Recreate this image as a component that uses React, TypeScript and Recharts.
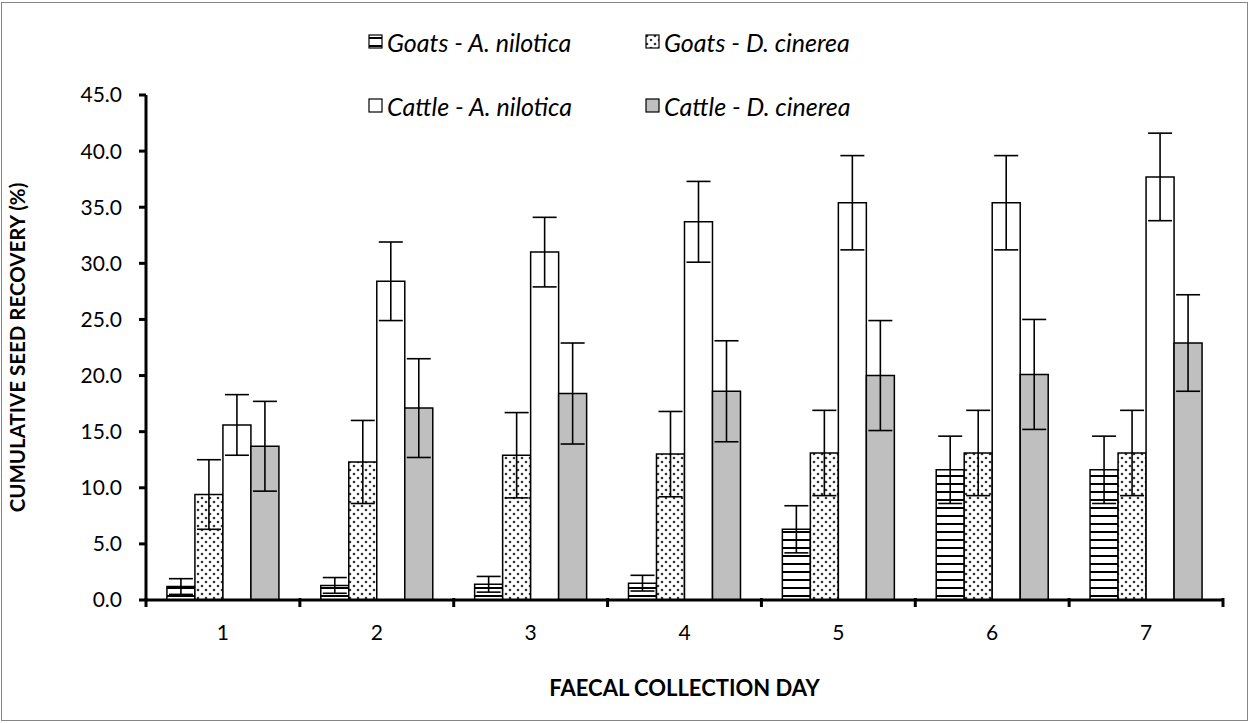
import React from "react";
import { Bar, BarChart, ErrorBar, XAxis, YAxis } from "recharts";

// values (cumulative % recovered, ± error)
const days = ["1", "2", "3", "4", "5", "6", "7"];
const goatsNilotica = [1.2, 1.3, 1.4, 1.5, 6.3, 11.6, 11.6];
const goatsNiloticaErr = [0.7, 0.7, 0.7, 0.7, 2.1, 3.0, 3.0];
const goatsCinerea = [9.4, 12.3, 12.9, 13.0, 13.1, 13.1, 13.1];
const goatsCinereaErr = [3.1, 3.7, 3.8, 3.8, 3.8, 3.8, 3.8];
const cattleNilotica = [15.6, 28.4, 31.0, 33.7, 35.4, 35.4, 37.7];
const cattleNiloticaErr = [2.7, 3.5, 3.1, 3.6, 4.2, 4.2, 3.9];
const cattleCinerea = [13.7, 17.1, 18.4, 18.6, 20.0, 20.1, 22.9];
const cattleCinereaErr = [4.0, 4.4, 4.5, 4.5, 4.9, 4.9, 4.3];
const yTicks = [0, 5, 10, 15, 20, 25, 30, 35, 40, 45];

const series = [
  { key: "gA", name: "Goats - A. nilotica", fill: "url(#hlines)" },
  { key: "gD", name: "Goats - D. cinerea", fill: "url(#dots)" },
  { key: "cA", name: "Cattle - A. nilotica", fill: "#ffffff" },
  { key: "cD", name: "Cattle - D. cinerea", fill: "#bfbfbf" },
];

const data = days.map((day, i) => ({
  day,
  gA: goatsNilotica[i],
  gAe: goatsNiloticaErr[i],
  gD: goatsCinerea[i],
  gDe: goatsCinereaErr[i],
  cA: cattleNilotica[i],
  cAe: cattleNiloticaErr[i],
  cD: cattleCinerea[i],
  cDe: cattleCinereaErr[i],
}));

const W = 1249;
const H = 723;
const margin = { top: 95, right: 26, left: 66, bottom: 23 };
const yAxisWidth = 80;
const plotLeft = margin.left + yAxisWidth;
const plotRight = W - margin.right;
const band = (plotRight - plotLeft) / days.length;
const font = "Lato, 'Open Sans', sans-serif";

function DayTick(props: any) {
  const { x, y, payload, index } = props;
  const left = x - band / 2;
  return (
    <g>
      <line x1={left} x2={left} y1={y - 10} y2={y - 1} stroke="#000" strokeWidth={3} />
      {index === days.length - 1 && (
        <line x1={x + band / 2} x2={x + band / 2} y1={y - 10} y2={y - 1} stroke="#000" strokeWidth={3} />
      )}
      <text x={x} y={y + 32} textAnchor="middle" fontSize={21} fontFamily={font} fill="#000">
        {payload.value}
      </text>
    </g>
  );
}

function LegendBox({ fill }: { fill: string }) {
  return (
    <svg width={15} height={15} style={{ marginRight: 4 }}>
      <rect x={1} y={1} width={13} height={13} fill={fill} stroke="#000" strokeWidth={1.2} />
    </svg>
  );
}

function LegendBlock() {
  return (
    <div
      style={{
        position: "absolute",
        left: 368,
        top: 28,
        display: "grid",
        gridTemplateColumns: "277px 270px",
        rowGap: 37,
        fontFamily: font,
        fontStyle: "italic",
        fontSize: 25,
        color: "#000",
      }}
    >
      {series.map((s) => (
        <div key={s.key} style={{ display: "flex", alignItems: "center", height: 27 }}>
          <LegendBox fill={s.fill} />
          <span>{s.name}</span>
        </div>
      ))}
    </div>
  );
}

export default function App() {
  return (
    <div style={{ position: "absolute", left: 0, top: 0, width: W, height: H, background: "#fff" }}>
      <div
        style={{
          position: "absolute",
          left: 1,
          top: 2,
          width: W - 4,
          height: H - 6,
          border: "1px solid #868686",
        }}
      />
      <BarChart
        width={W}
        height={H}
        data={data}
        margin={margin}
        barCategoryGap="13.6%"
        barGap={0}
        style={{ position: "absolute", left: 0, top: 0 }}
      >
        <defs>
          <pattern id="hlines" width={8} height={8} patternUnits="userSpaceOnUse">
            <rect width={8} height={8} fill="#fff" />
            <rect y={3} width={8} height={2} fill="#000" />
          </pattern>
          <pattern id="dots" width={8} height={8} patternUnits="userSpaceOnUse">
            <rect width={8} height={8} fill="#fff" />
            <circle cx={2} cy={2} r={1.3} fill="#333" />
            <circle cx={6} cy={6} r={1.3} fill="#333" />
          </pattern>
        </defs>
        <XAxis
          dataKey="day"
          height={100}
          axisLine={{ stroke: "#000", strokeWidth: 3 }}
          tickLine={false}
          tick={<DayTick />}
          interval={0}
          label={{
            value: "FAECAL COLLECTION DAY",
            position: "insideBottom",
            offset: 4,
            fontSize: 22,
            fontWeight: 700,
            fontFamily: font,
            fill: "#000",
          }}
        />
        <YAxis
          width={yAxisWidth}
          domain={[0, 45]}
          ticks={yTicks}
          interval={0}
          tickFormatter={(v: number) => v.toFixed(1)}
          axisLine={{ stroke: "#000", strokeWidth: 3 }}
          tickLine={{ stroke: "#000", strokeWidth: 3 }}
          tickSize={7}
          tickMargin={17}
          tick={{ fontSize: 21, fontFamily: font, fill: "#000" }}
          label={{
            value: "CUMULATIVE SEED RECOVERY (%)",
            angle: -90,
            position: "insideLeft",
            offset: -48,
            style: { textAnchor: "middle" },
            fontSize: 20.5,
            fontWeight: 700,
            fontFamily: font,
            fill: "#000",
          }}
        />
        {series.map((s) => (
          <Bar
            key={s.key}
            dataKey={s.key}
            name={s.name}
            fill={s.fill}
            stroke="#000"
            strokeWidth={1.5}
            isAnimationActive={false}
          >
            <ErrorBar dataKey={s.key + "e"} width={12} stroke="#000" strokeWidth={1.6} />
          </Bar>
        ))}
      </BarChart>
      <LegendBlock />
    </div>
  );
}
